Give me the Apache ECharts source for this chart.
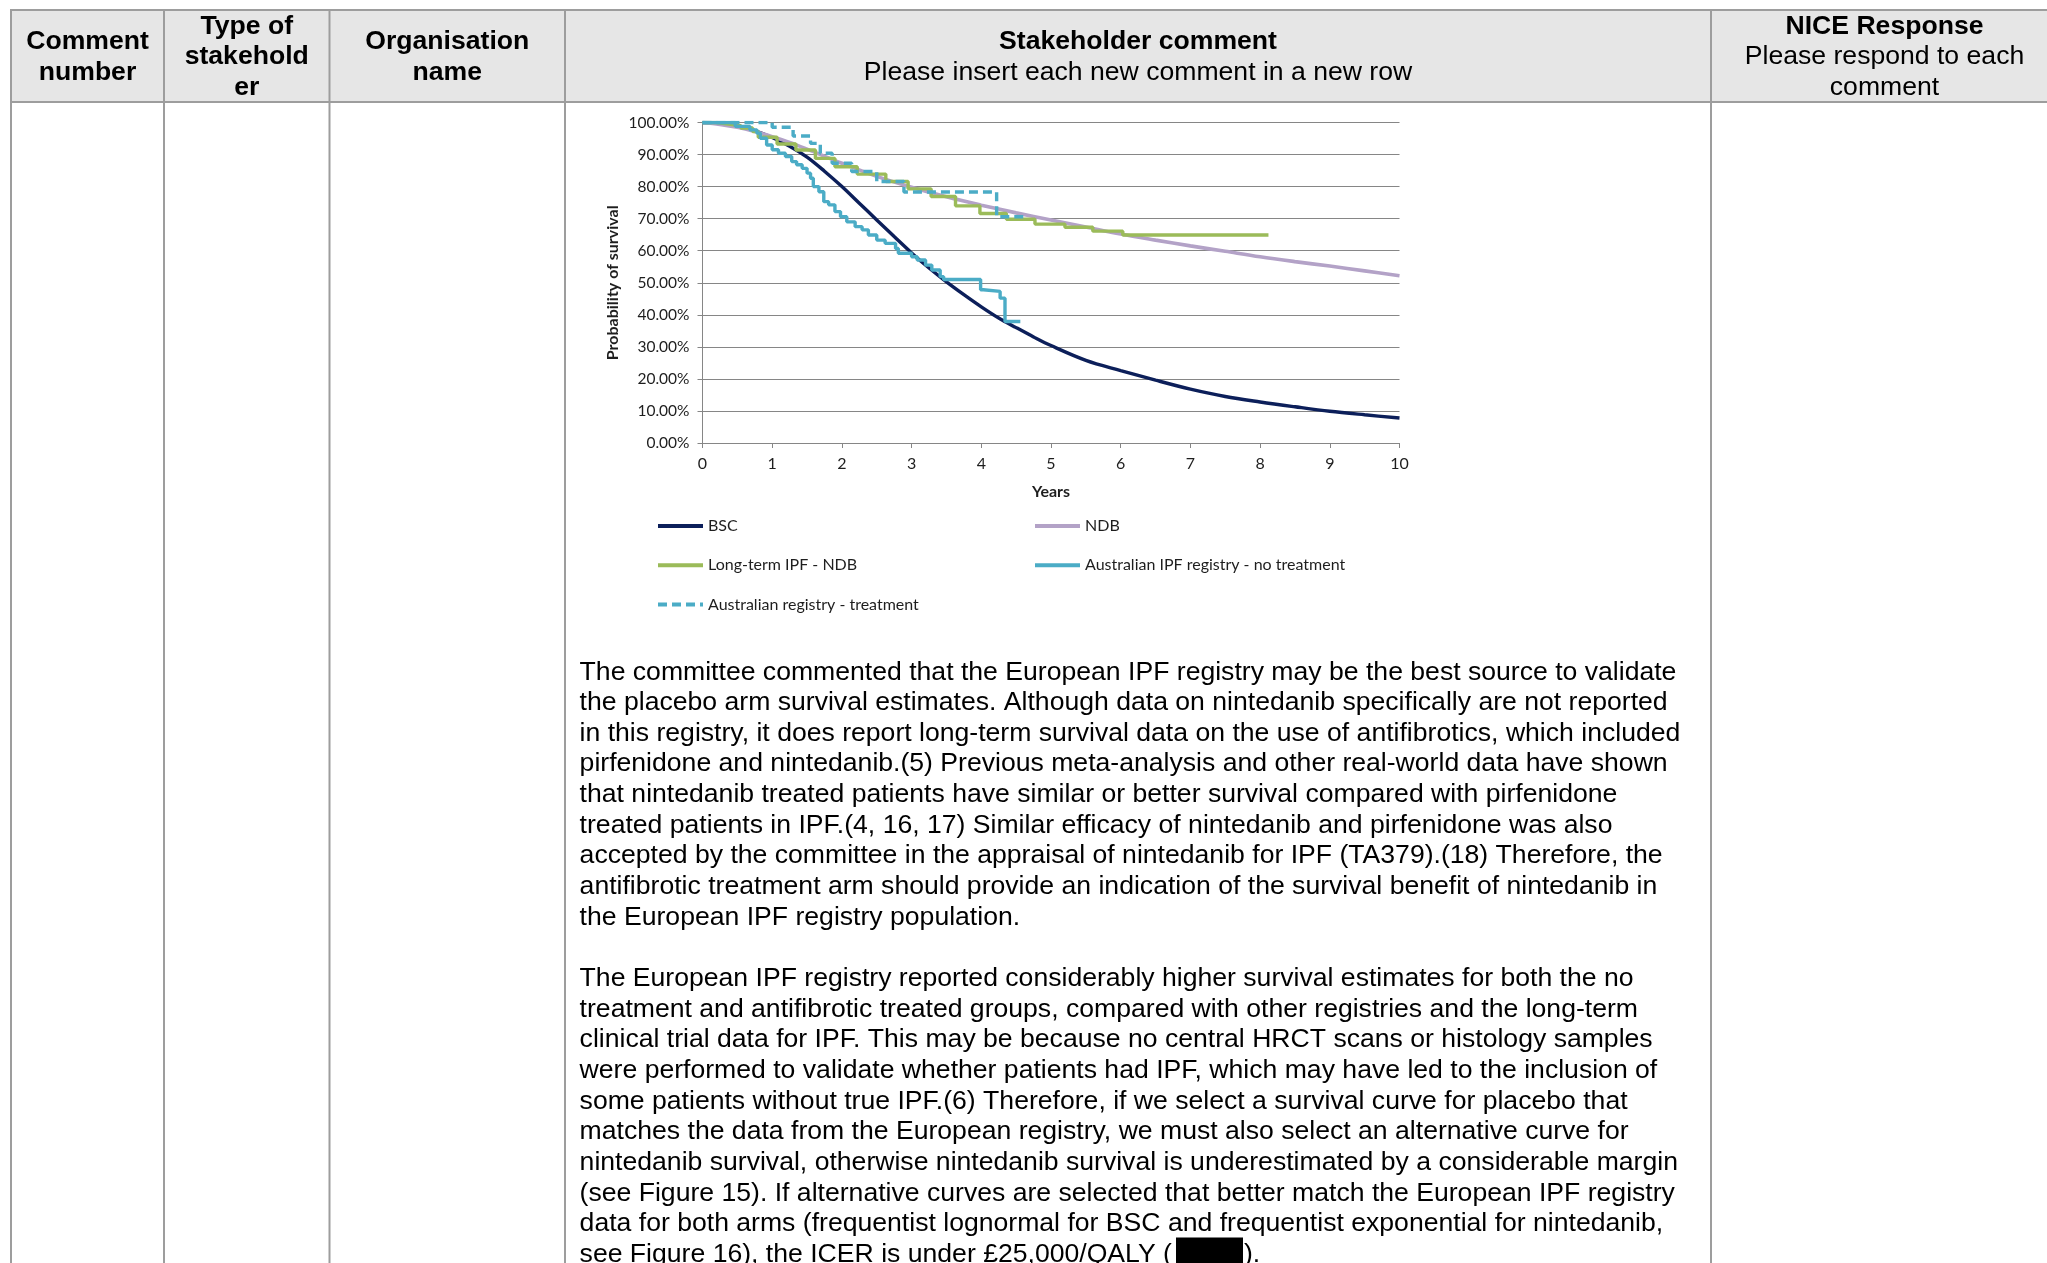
<!DOCTYPE html>
<html>
<head>
<meta charset="utf-8">
<script src="https://cdn.jsdelivr.net/npm/echarts@6/dist/echarts.min.js"></script>
<style>
  html, body { margin: 0; padding: 0; background: #fff; overflow: hidden; }
  #page { width: 2047px; height: 1263px; }
</style>
</head>
<body>
<div id="page"></div>
<script>
// ---- Survival data (years, probability of survival in %) ----
const bscYears = [0, 0.25, 0.5, 0.75, 1, 1.25, 1.5, 1.75, 2, 2.25, 2.5, 2.75, 3, 3.25, 3.5, 3.75, 4, 4.25, 4.5, 4.75, 5, 5.5, 6, 6.5, 7, 7.5, 8, 8.5, 9, 9.5, 10];
const bscSurvival = [100, 99.8, 99.0, 97.5, 95.3, 92.6, 89.2, 84.8, 80.0, 74.8, 69.6, 64.4, 59.3, 54.6, 50.3, 46.3, 42.5, 39.0, 36.0, 33.1, 30.4, 25.8, 22.6, 19.6, 16.8, 14.5, 12.8, 11.3, 9.9, 8.8, 7.8];

const ndbYears = [0, 0.25, 0.5, 0.75, 1, 1.25, 1.5, 2, 2.5, 3, 3.5, 4, 4.5, 5, 5.5, 6, 6.5, 7, 7.5, 8, 8.5, 9, 9.5, 10];
const ndbSurvival = [100, 99.4, 98.5, 97.2, 95.6, 93.8, 91.7, 87.3, 83.2, 79.8, 76.8, 74.2, 71.8, 69.6, 67.4, 65.2, 63.3, 61.5, 59.8, 58.1, 56.6, 55.2, 53.7, 52.2];

// Kaplan-Meier style step curves: event times and survival after each step
const longTermTimes = [0, 0.2, 0.4, 0.55, 0.72, 0.8, 1.07, 1.34, 1.62, 1.9, 2.22, 2.63, 2.95, 3.28, 3.63, 3.98, 4.36, 4.77, 5.2, 5.6, 6.03, 8.12];
const longTermSurvival = [100, 99.4, 99.0, 98.3, 97.2, 95.4, 93.3, 91.4, 88.8, 86.2, 83.9, 81.6, 79.3, 76.9, 74.0, 71.6, 69.8, 68.3, 67.3, 66.1, 64.9, 64.9];

const ausNoTxTimes = [0, 0.47, 0.68, 0.78, 0.83, 0.92, 1.0, 1.09, 1.19, 1.28, 1.35, 1.43, 1.5, 1.55, 1.59, 1.67, 1.74, 1.81, 1.9, 1.98, 2.07, 2.19, 2.29, 2.38, 2.5, 2.62, 2.77, 2.81, 3.0, 3.08, 3.2, 3.29, 3.41, 3.46, 3.99, 4.03, 4.27, 4.34, 4.56];
const ausNoTxSurvival = [100, 98.8, 97.7, 96.7, 95.1, 93.0, 91.5, 90.4, 89.4, 87.8, 86.8, 85.7, 84.2, 82.6, 80.0, 78.4, 75.3, 74.3, 72.2, 70.6, 69.0, 67.5, 66.5, 64.9, 63.3, 62.3, 60.7, 59.2, 58.1, 57.1, 55.5, 54.0, 51.9, 51.0, 47.8, 47.3, 45.2, 37.9, 37.9];

const ausTxTimes = [0, 1.0, 1.3, 1.55, 1.69, 1.86, 2.14, 2.5, 2.89, 4.22, 4.62];
const ausTxSurvival = [100, 98.5, 95.8, 93.5, 90.4, 87.3, 84.7, 81.6, 78.3, 70.6, 70.6];

const seriesNames = ['BSC', 'NDB', 'Long-term IPF - NDB', 'Australian IPF registry - no treatment', 'Australian registry - treatment'];
const seriesColors = ['#0c1f5a', '#b3a2c7', '#9bbb59', '#4bacc6', '#4bacc6'];

// ---- Table header and comment text ----
const headerCells = [
  [['Comment', true], ['number', true]],
  [['Type of', true], ['stakehold', true], ['er', true]],
  [['Organisation', true], ['name', true]],
  [['Stakeholder comment', true], ['Please insert each new comment in a new row', false]],
  [['NICE Response', true], ['Please respond to each', false], ['comment', false]]
];

const paragraph1 = [
  'The committee commented that the European IPF registry may be the best source to validate',
  'the placebo arm survival estimates. Although data on nintedanib specifically are not reported',
  'in this registry, it does report long-term survival data on the use of antifibrotics, which included',
  'pirfenidone and nintedanib.(5) Previous meta-analysis and other real-world data have shown',
  'that nintedanib treated patients have similar or better survival compared with pirfenidone',
  'treated patients in IPF.(4, 16, 17) Similar efficacy of nintedanib and pirfenidone was also',
  'accepted by the committee in the appraisal of nintedanib for IPF (TA379).(18) Therefore, the',
  'antifibrotic treatment arm should provide an indication of the survival benefit of nintedanib in',
  'the European IPF registry population.'
];
const paragraph2 = [
  'The European IPF registry reported considerably higher survival estimates for both the no',
  'treatment and antifibrotic treated groups, compared with other registries and the long-term',
  'clinical trial data for IPF. This may be because no central HRCT scans or histology samples',
  'were performed to validate whether patients had IPF, which may have led to the inclusion of',
  'some patients without true IPF.(6) Therefore, if we select a survival curve for placebo that',
  'matches the data from the European registry, we must also select an alternative curve for',
  'nintedanib survival, otherwise nintedanib survival is underestimated by a considerable margin',
  '(see Figure 15). If alternative curves are selected that better match the European IPF registry',
  'data for both arms (frequentist lognormal for BSC and frequentist exponential for nintedanib,',
  'see Figure 16), the ICER is under \u00a325,000/QALY ('
];
const redactedTail = ').';

// ---- Page layout ----
const colEdges = [11, 164, 329.5, 565, 1711, 2058];
const headerTop = 10, headerBottom = 102;
const bodyFont = '26.6px "Liberation Sans", Arial, sans-serif';
const bodyBold = 'bold 26.6px "Liberation Sans", Arial, sans-serif';
const lineStep = 30.65;
const textLeft = 579.6;

const pair = (xs, ys) => xs.map((x, i) => [x, ys[i]]);

const graphics = [];
// header shading
graphics.push({ type: 'rect', shape: { x: colEdges[0], y: headerTop, width: colEdges[5] - colEdges[0], height: headerBottom - headerTop }, style: { fill: '#e6e6e6' }, silent: true });
// horizontal rules
[headerTop, headerBottom].forEach(y => graphics.push({ type: 'rect', shape: { x: colEdges[0] - 1, y: y - 1, width: 2100, height: 2 }, style: { fill: '#9d9d9d' }, silent: true }));
// vertical rules
colEdges.forEach(x => graphics.push({ type: 'rect', shape: { x: x - 1, y: headerTop - 1, width: 2, height: 1300 }, style: { fill: '#9d9d9d' }, silent: true }));
// header text, vertically centred in the header row
headerCells.forEach((cell, c) => {
  const cx = (colEdges[c] + colEdges[c + 1]) / 2;
  const mid = (headerTop + headerBottom) / 2 + 1;
  cell.forEach((ln, i) => {
    graphics.push({ type: 'text', silent: true, style: {
      text: ln[0], x: cx, y: mid + (i - (cell.length - 1) / 2) * lineStep,
      font: ln[1] ? bodyBold : bodyFont, fill: '#000', textAlign: 'center', textVerticalAlign: 'middle'
    }});
  });
});
// comment paragraphs
const p1Top = 672.2;
paragraph1.forEach((t, i) => graphics.push({ type: 'text', silent: true, style: { text: t, x: textLeft, y: p1Top + i * lineStep, font: bodyFont, fill: '#000', textAlign: 'left', textVerticalAlign: 'middle' } }));
const p2Top = p1Top + (paragraph1.length + 1) * lineStep;
paragraph2.forEach((t, i) => graphics.push({ type: 'text', silent: true, style: { text: t, x: textLeft, y: p2Top + i * lineStep, font: bodyFont, fill: '#000', textAlign: 'left', textVerticalAlign: 'middle' } }));
const lastY = p2Top + (paragraph2.length - 1) * lineStep;
graphics.push({ type: 'rect', silent: true, shape: { x: 1176, y: lastY - 17, width: 67, height: 60 }, style: { fill: '#000' } });
graphics.push({ type: 'text', silent: true, style: { text: redactedTail, x: 1244, y: lastY, font: bodyFont, fill: '#000', textAlign: 'left', textVerticalAlign: 'middle' } });

const chartFont = 'Lato';
const axisGrey = '#868686';
const labelColor = '#1e1e1e';

const legendBase = {
  orient: 'vertical', top: 513, itemWidth: 45, itemHeight: 16, itemGap: 23.3,
  itemStyle: { opacity: 0 },
  lineStyle: { width: 4 },
  textStyle: { fontFamily: chartFont, fontSize: 16, color: labelColor, lineHeight: 16 },
  selectedMode: false
};

const chart = echarts.init(document.getElementById('page'), null, { renderer: 'canvas', width: 2047, height: 1263 });
chart.setOption({
  backgroundColor: '#ffffff',
  animation: false,
  graphic: graphics,
  grid: { left: 702.5, top: 122.5, width: 697, height: 320.5, containLabel: false },
  legend: [
    Object.assign({ data: [seriesNames[0], seriesNames[2], seriesNames[4]], left: 651 }, legendBase),
    Object.assign({ data: [seriesNames[1], seriesNames[3]], left: 1028 }, legendBase)
  ],
  xAxis: {
    type: 'value', min: 0, max: 10, interval: 1,
    name: 'Years', nameLocation: 'middle', nameGap: 41,
    nameTextStyle: { fontFamily: chartFont, fontWeight: 'bold', fontSize: 16, color: labelColor },
    axisLine: { show: true, lineStyle: { color: axisGrey, width: 1 } },
    axisTick: { show: true, length: 5, lineStyle: { color: axisGrey } },
    axisLabel: { fontFamily: chartFont, fontSize: 16, color: labelColor, margin: 13 },
    splitLine: { show: false }
  },
  yAxis: {
    type: 'value', min: 0, max: 100, interval: 10,
    name: 'Probability of survival', nameLocation: 'middle', nameRotate: 90, nameGap: 82,
    nameTextStyle: { fontFamily: chartFont, fontWeight: 'bold', fontSize: 16, color: labelColor },
    axisLine: { show: true, lineStyle: { color: axisGrey, width: 1 } },
    axisTick: { show: true, length: 5, lineStyle: { color: axisGrey } },
    axisLabel: { fontFamily: chartFont, fontSize: 15.5, color: labelColor, margin: 13, formatter: v => v.toFixed(2) + '%' },
    splitLine: { show: true, lineStyle: { color: axisGrey, width: 1 } }
  },
  series: [
    { name: seriesNames[0], type: 'line', data: pair(bscYears, bscSurvival), smooth: 0.35, symbol: 'none',
      lineStyle: { color: seriesColors[0], width: 3.4 }, itemStyle: { color: seriesColors[0] } },
    { name: seriesNames[1], type: 'line', data: pair(ndbYears, ndbSurvival), smooth: 0.35, symbol: 'none',
      lineStyle: { color: seriesColors[1], width: 3.6 }, itemStyle: { color: seriesColors[1] } },
    { name: seriesNames[2], type: 'line', data: pair(longTermTimes, longTermSurvival), step: 'end', symbol: 'none',
      lineStyle: { color: seriesColors[2], width: 3.4 }, itemStyle: { color: seriesColors[2] } },
    { name: seriesNames[3], type: 'line', data: pair(ausNoTxTimes, ausNoTxSurvival), step: 'end', symbol: 'none',
      lineStyle: { color: seriesColors[3], width: 3.4 }, itemStyle: { color: seriesColors[3] } },
    { name: seriesNames[4], type: 'line', data: pair(ausTxTimes, ausTxSurvival), step: 'end', symbol: 'none',
      lineStyle: { color: seriesColors[4], width: 3.4, type: [9, 5] }, itemStyle: { color: seriesColors[4] } }
  ]
});
</script>
</body>
</html>
